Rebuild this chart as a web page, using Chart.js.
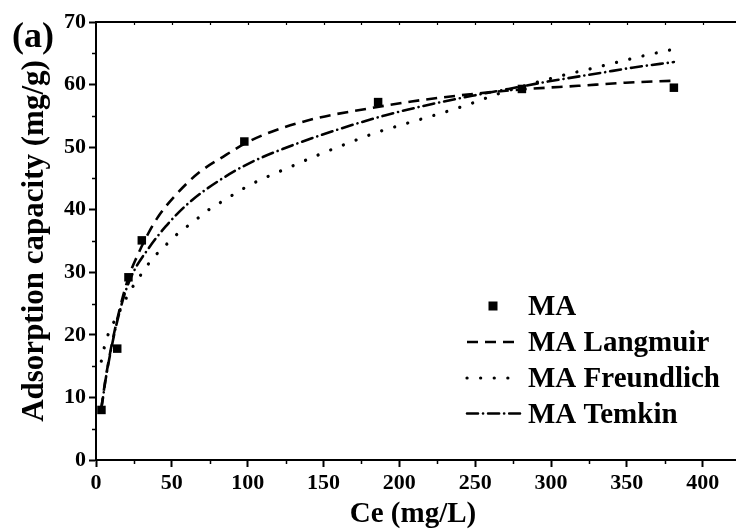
<!DOCTYPE html>
<html>
<head>
<meta charset="utf-8">
<title>Adsorption isotherms (a)</title>
<script src="https://cdn.jsdelivr.net/npm/chart.js@4"></script>
<style>
  html, body { margin: 0; padding: 0; background: #fff; }
  #wrap { width: 736px; height: 529px; }
</style>
</head>
<body>
<div id="wrap"><canvas id="isoChart" width="736" height="529"></canvas></div>
<script>
// measured points
const ceData = [3.6, 14.0, 21.4, 30.2, 97.8, 186, 280.8, 381];
const qeData = [8.0, 17.8, 29.2, 35.1, 50.9, 57.2, 59.3, 59.5];

// fitted curves
const langmuirCe = [3.5, 6, 10, 15, 21.6, 27, 34, 41.3, 53.5, 67.7, 84, 98.4, 114, 145, 178, 208, 252.5, 285, 318, 349, 380];
const langmuirQ = [8.2, 12.5, 18.0, 23.5, 29.3, 32.5, 36.0, 39.0, 42.6, 45.9, 48.5, 50.6, 52.3, 54.6, 56.1, 57.3, 58.6, 59.3, 59.8, 60.3, 60.6];

const freundlichCe = [3.5, 6.5, 9.5, 15, 22, 29.3, 37, 45.8, 54.5, 64.4, 73.2, 83, 91.8, 101, 129.6, 148, 165.8, 184.5, 202, 221.7, 240.4, 270, 305, 323.8, 342.5, 361, 380];
const freundlichQ = [15.8, 19.0, 20.9, 23.5, 26.8, 29.5, 32.1, 34.3, 36.3, 38.1, 39.8, 41.3, 42.6, 43.9, 47.0, 48.9, 50.6, 52.3, 53.6, 55.0, 56.4, 58.9, 61.3, 62.4, 63.5, 64.6, 65.6];

const temkinCe = [3.5, 4.5, 6.3, 9.5, 14, 19.4, 25, 33.7, 45.8, 62.2, 80.8, 100, 123, 158, 191, 221.7, 248, 272, 296, 333.6, 353.4, 381];
const temkinQ = [8.3, 9.8, 12.8, 17.1, 22.2, 26.9, 30.2, 33.5, 37.3, 41.3, 44.6, 47.3, 49.7, 52.7, 55.1, 56.9, 58.2, 59.3, 60.4, 61.9, 62.7, 63.6];

const xTicksMajor = [0, 50, 100, 150, 200, 250, 300, 350, 400];
const yTicksMajor = [0, 10, 20, 30, 40, 50, 60, 70];

const legendLabels = ["MA", "MA Langmuir", "MA Freundlich", "MA Temkin"];

const toPoints = (xs, ys) => xs.map((x, i) => ({ x: x, y: ys[i] }));

const FONT = "'Liberation Serif', 'Times New Roman', serif";
Chart.defaults.font.family = FONT;
Chart.defaults.font.weight = "bold";
Chart.defaults.color = "#000";

const dashStyles = {
    langmuir: [11, 7],
    freundlich: [0.1, 13.5],
    temkin: [11, 5, 0.1, 5],
};

// minor ticks, frame lines, legend and panel label
const extrasPlugin = {
    id: "extras",
    afterDatasetsDraw(chart) {
        const ctx = chart.ctx;
        const xs = chart.scales.x;
        const ys = chart.scales.y;
        const area = chart.chartArea;
        ctx.save();
        ctx.strokeStyle = "#000";

        // minor ticks
        ctx.lineWidth = 1.5;
        ctx.beginPath();
        for (let v = 25; v <= 400; v += 50) {
            const px = Math.round(xs.getPixelForValue(v)) + 0.5;
            ctx.moveTo(px, area.bottom);
            ctx.lineTo(px, area.bottom + 4);
        }
        for (let v = 5; v < 70; v += 10) {
            const py = Math.round(ys.getPixelForValue(v)) + 0.5;
            ctx.moveTo(area.left, py);
            ctx.lineTo(area.left - 4, py);
        }
        ctx.stroke();

        // top frame, bottom axis run to the picture edge
        ctx.lineWidth = 2;
        ctx.beginPath();
        ctx.moveTo(area.left, area.top);
        ctx.lineTo(chart.width, area.top);
        ctx.moveTo(area.right - 1, area.bottom);
        ctx.lineTo(chart.width, area.bottom);
        ctx.stroke();
        ctx.lineWidth = 1.2;
        ctx.beginPath();
        for (let v = 25; v <= 400; v += 25) {
            const px = Math.round(xs.getPixelForValue(v)) + 0.5;
            ctx.moveTo(px, area.top);
            ctx.lineTo(px, area.top + 3);
        }
        ctx.stroke();

        // legend
        const lx = 467, lx2 = 520, tx = 528;
        const rowBase = [315, 351, 387, 422.5];
        ctx.font = "bold 29px " + FONT;
        ctx.fillStyle = "#000";
        ctx.textBaseline = "alphabetic";
        ctx.textAlign = "left";
        legendLabels.forEach((lab, i) => {
            const by = rowBase[i];
            const my = by - 9;
            if (i === 0) {
                ctx.fillRect(493 - 4.5, my - 4.5, 9, 9);
            } else {
                const dash = [dashStyles.langmuir, dashStyles.freundlich, dashStyles.temkin][i - 1];
                ctx.setLineDash(dash);
                ctx.lineWidth = i === 2 ? 3.2 : 2.6;
                ctx.lineCap = i === 1 ? "butt" : "round";
                ctx.beginPath();
                ctx.moveTo(lx, my);
                ctx.lineTo(lx2, my);
                ctx.stroke();
                ctx.setLineDash([]);
                ctx.lineCap = "butt";
            }
            ctx.fillText(lab, tx, by);
        });

        // panel label
        ctx.font = "bold 36px " + FONT;
        ctx.fillText("(a)", 12, 47);
        ctx.restore();
    },
};

const ctx = document.getElementById("isoChart").getContext("2d");

new Chart(ctx, {
    type: "scatter",
    data: {
        datasets: [
            {
                label: "MA",
                data: toPoints(ceData, qeData),
                pointStyle: "rect",
                pointRadius: 6,
                pointHoverRadius: 6,
                backgroundColor: "#000",
                borderColor: "#000",
                borderWidth: 0,
                showLine: false,
                order: 0,
            },
            {
                label: "MA Langmuir",
                type: "line",
                data: toPoints(langmuirCe, langmuirQ),
                borderColor: "#000",
                borderWidth: 2.6,
                borderDash: dashStyles.langmuir,
                pointRadius: 0,
                cubicInterpolationMode: "monotone",
                fill: false,
                order: 1,
            },
            {
                label: "MA Freundlich",
                type: "line",
                data: toPoints(freundlichCe, freundlichQ),
                borderColor: "#000",
                borderWidth: 3.2,
                borderDash: dashStyles.freundlich,
                borderCapStyle: "round",
                pointRadius: 0,
                cubicInterpolationMode: "monotone",
                fill: false,
                order: 2,
            },
            {
                label: "MA Temkin",
                type: "line",
                data: toPoints(temkinCe, temkinQ),
                borderColor: "#000",
                borderWidth: 2.6,
                borderDash: dashStyles.temkin,
                borderCapStyle: "round",
                pointRadius: 0,
                cubicInterpolationMode: "monotone",
                fill: false,
                order: 3,
            },
        ],
    },
    options: {
        responsive: false,
        animation: false,
        devicePixelRatio: 1,
        layout: { padding: { top: 22, right: 0, bottom: 0, left: 0 } },
        plugins: {
            legend: { display: false },
            tooltip: { enabled: false },
        },
        scales: {
            x: {
                type: "linear",
                min: 0,
                max: 418,
                afterBuildTicks: (s) => { s.ticks = xTicksMajor.map((v) => ({ value: v })); },
                afterFit: (s) => { s.height = 69; },
                border: { display: true, color: "#000", width: 2 },
                grid: {
                    display: true,
                    drawOnChartArea: false,
                    tickLength: 7,
                    tickWidth: 2,
                    tickColor: "#000",
                },
                ticks: {
                    autoSkip: false,
                    maxRotation: 0,
                    padding: 3,
                    font: { size: 22, weight: "bold" },
                    callback: (v) => String(v),
                },
                title: {
                    display: true,
                    text: "Ce (mg/L)",
                    font: { size: 29, weight: "bold", lineHeight: 1.0 },
                    padding: { top: 0, bottom: 0 },
                },
            },
            y: {
                min: 0,
                max: 70,
                afterBuildTicks: (s) => { s.ticks = yTicksMajor.map((v) => ({ value: v })); },
                afterFit: (s) => { s.width = 96; },
                border: { display: true, color: "#000", width: 2 },
                grid: {
                    display: true,
                    drawOnChartArea: false,
                    tickLength: 7,
                    tickWidth: 2,
                    tickColor: "#000",
                },
                ticks: {
                    autoSkip: false,
                    padding: 3,
                    font: { size: 22, weight: "bold" },
                    callback: (v) => String(v),
                },
                title: {
                    display: true,
                    text: "Adsorption capacity (mg/g)",
                    font: { size: 31, weight: "bold", lineHeight: 1.2 },
                    padding: { top: 16, bottom: 0 },
                },
            },
        },
    },
    plugins: [extrasPlugin],
});
</script>
</body>
</html>
